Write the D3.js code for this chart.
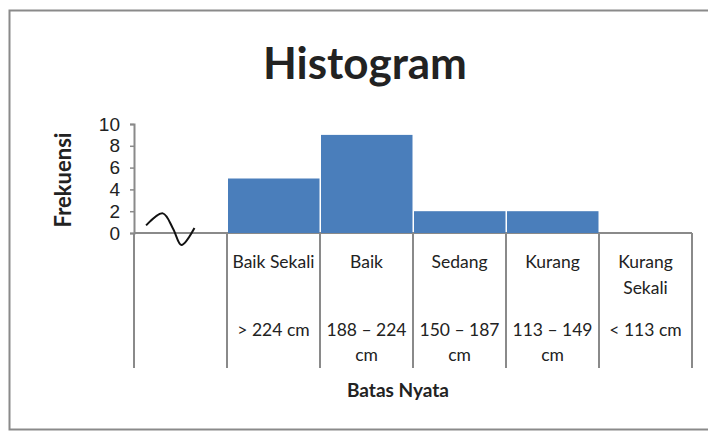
<!DOCTYPE html>
<html>
<head>
<meta charset="utf-8">
<script src="https://cdn.jsdelivr.net/npm/d3@7"></script>
<style>
  body { margin: 0; background: #fff; }
  text { font-family: Lato, "Open Sans", sans-serif; fill: #222; }
</style>
</head>
<body>
<div id="chart"></div>
<script>
/* CONSTANTS AND GLOBALS */
const width = 708;
const height = 432;

// DATA
const categories = ["", "Baik Sekali", "Baik", "Sedang", "Kurang", "Kurang Sekali"];
const catLines = [[], ["Baik Sekali"], ["Baik"], ["Sedang"], ["Kurang"], ["Kurang", "Sekali"]];
const rangeLines = [[], ["> 224 cm"], ["188 \u2013 224", "cm"], ["150 \u2013 187", "cm"], ["113 \u2013 149", "cm"], ["< 113 cm"]];
const frekuensi = [null, 5, 9, 2, 2, 0];
const yTicks = [0, 2, 4, 6, 8, 10];
// axis break squiggle, in (band fraction, value) units
const breakPts = [[0.13, 0.7], [0.31, 1.8], [0.42, 0.4], [0.51, -1.1], [0.65, 0.45]];

const svg = d3.select("#chart")
  .append("svg")
  .attr("width", width)
  .attr("height", height);

// frame
svg.append("rect")
  .attr("x", 9.5).attr("y", 10.5)
  .attr("width", 720).attr("height", 419)
  .attr("fill", "none")
  .attr("stroke", "#8a8a8a")
  .attr("stroke-width", 2);

const xScale = d3.scaleBand()
  .domain(categories)
  .range([134, 692])
  .padding(0);

const yScale = d3.scaleLinear()
  .domain([0, 10])
  .range([233, 124]);

const bw = xScale.bandwidth();

// bars
svg.selectAll(".bar")
  .data(categories.map((c, i) => ({c, v: frekuensi[i]})).filter(d => d.v))
  .join("rect")
  .attr("class", "bar")
  .attr("x", d => xScale(d.c) + 1)
  .attr("width", bw - 1.5)
  .attr("y", d => yScale(d.v))
  .attr("height", d => yScale(0) - yScale(d.v))
  .attr("fill", "#4a7ebb");

// x axis line
svg.insert("line", ".bar")
  .attr("x1", xScale.range()[0]).attr("x2", xScale.range()[1])
  .attr("y1", yScale(0)).attr("y2", yScale(0))
  .attr("stroke", "#8a8a8a").attr("stroke-width", 2);

// long category dividers
const edges = categories.map(c => xScale(c)).concat([xScale.range()[1]]);
svg.selectAll(".divider")
  .data(edges)
  .join("line")
  .attr("class", "divider")
  .attr("x1", d => d).attr("x2", d => d)
  .attr("y1", yScale(0)).attr("y2", 368)
  .attr("stroke", "#8a8a8a").attr("stroke-width", 2);

// y axis
const yAxis = d3.axisLeft(yScale).tickValues(yTicks).tickSize(4).tickPadding(10);
const yg = svg.append("g")
  .attr("transform", "translate(134,0)")
  .call(yAxis);
yg.select(".domain").attr("stroke", "#8a8a8a").attr("stroke-width", 2);
yg.selectAll(".tick line").attr("stroke", "#8a8a8a").attr("stroke-width", 1.5);
yg.selectAll(".tick text")
  .style("font-family", "'Liberation Sans', Arial, sans-serif")
  .style("font-size", "19px")
  .attr("fill", "#222");

// category labels
const catG = svg.selectAll(".cat")
  .data(categories)
  .join("text")
  .attr("class", "cat")
  .attr("text-anchor", "middle")
  .style("font-size", "17.5px");
catG.selectAll("tspan")
  .data((d, i) => catLines[i].map(t => ({t, x: xScale(d) + bw / 2})))
  .join("tspan")
  .attr("x", d => d.x)
  .attr("y", (d, j) => 268 + j * 26)
  .text(d => d.t);

const rangeG = svg.selectAll(".range")
  .data(categories)
  .join("text")
  .attr("class", "range")
  .attr("text-anchor", "middle")
  .style("font-size", "17.5px");
rangeG.selectAll("tspan")
  .data((d, i) => rangeLines[i].map(t => ({t, x: xScale(d) + bw / 2})))
  .join("tspan")
  .attr("x", d => d.x)
  .attr("y", (d, j) => 336 + j * 25)
  .text(d => d.t);

// axis break squiggle
const lineGen = d3.line()
  .x(d => xScale("") + d[0] * bw)
  .y(d => yScale(d[1]))
  .curve(d3.curveCatmullRom);
svg.append("path")
  .datum(breakPts)
  .attr("d", lineGen)
  .attr("fill", "none")
  .attr("stroke", "#111")
  .attr("stroke-width", 2);

// title
svg.append("text")
  .attr("x", 365).attr("y", 79)
  .attr("text-anchor", "middle")
  .style("font-size", "44px")
  .style("font-weight", "bold")
  .attr("fill", "#111")
  .text("Histogram");

// Y label
svg.append("text")
  .attr("transform", "translate(71,180) rotate(-90)")
  .attr("text-anchor", "middle")
  .style("font-size", "22px")
  .style("font-weight", "bold")
  .text("Frekuensi");

// X label
svg.append("text")
  .attr("x", 398).attr("y", 397)
  .attr("text-anchor", "middle")
  .style("font-size", "19px")
  .style("font-weight", "bold")
  .text("Batas Nyata");
</script>
</body>
</html>
